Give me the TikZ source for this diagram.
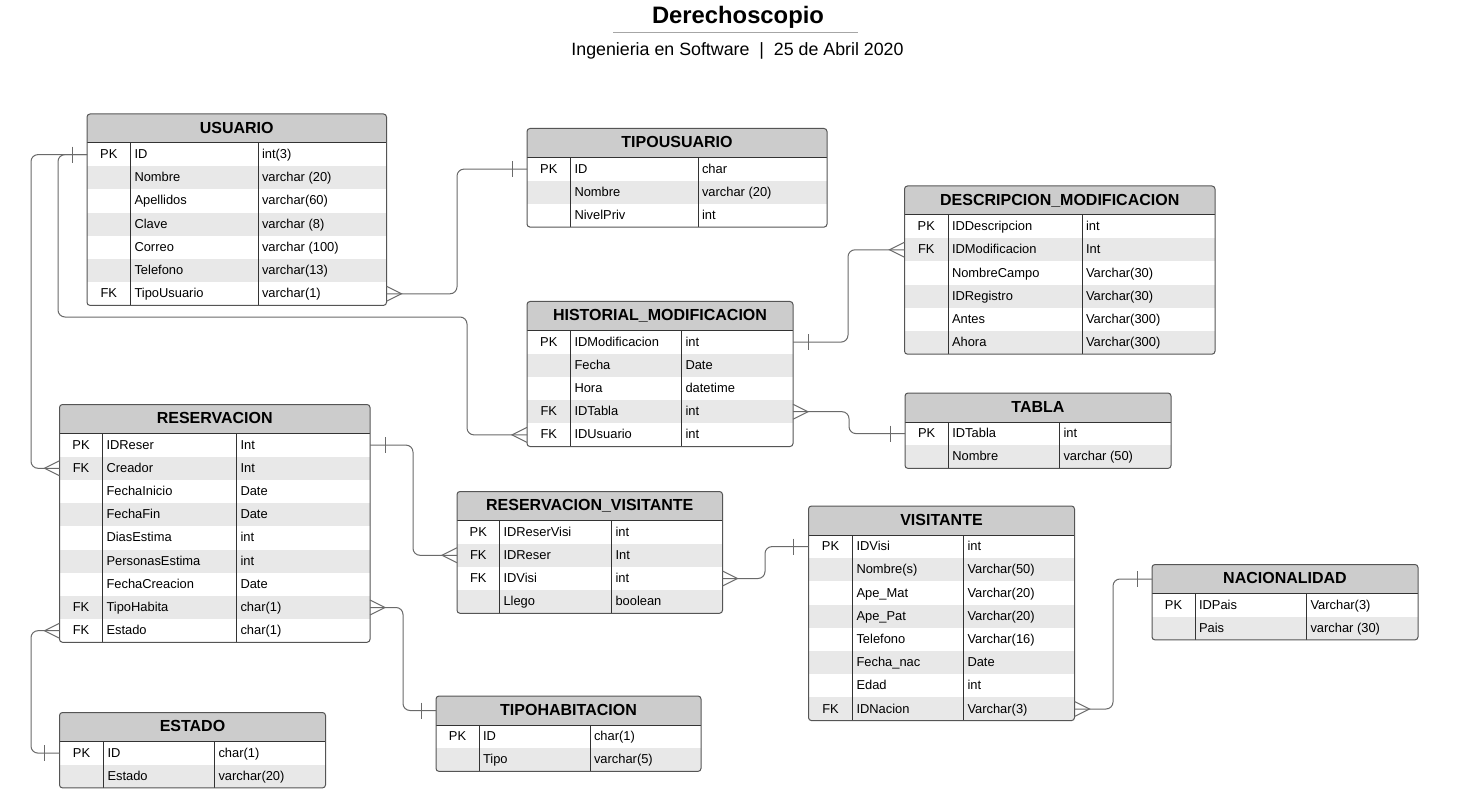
\documentclass[tikz,border=0pt]{standalone}
\usepackage{fontspec}
\setmainfont{Liberation Sans}
\usetikzlibrary{fit,calc}
\definecolor{hdr}{HTML}{CCCCCC}
\definecolor{rowsh}{HTML}{E8E8E8}
\definecolor{bord}{HTML}{555555}
\definecolor{gridl}{HTML}{333333}
\definecolor{lnk}{HTML}{6A6A6A}
\tikzset{
  cell/.style={inner sep=0pt, outer sep=0pt},
  keyt/.style={inner sep=0pt, outer sep=0pt, text height=9.2pt, text depth=0pt, font=\fontsize{12.9}{14}\selectfont},
  namet/.style={keyt, anchor=west},
  titlet/.style={inner sep=0pt, text height=11.4pt, text depth=0pt, font=\bfseries\fontsize{16}{18}\selectfont},
  conn/.style={draw=lnk, line width=1pt, rounded corners=7pt},
  ends/.style={draw=lnk, line width=1pt},
  sep/.style={draw=gridl, line width=1pt},
}
% #1 name #2 left #3 top #4 c1 #5 c2 #6 right #7 nrows #8 title #9 rows
\newcommand{\ertable}[9]{%
  \pgfmathsetmacro{\hb}{#3+29}%
  \pgfmathsetmacro{\tb}{#3+29+#7*23.2}%
  \pgfmathsetmacro{\kx}{(#2+#4)/2}%
  \pgfmathsetmacro{\hy}{#3+13.3}%
  \begin{scope}
    \clip[rounded corners=3pt] (#2,#3) rectangle (#6,\tb);
    \fill[white] (#2,#3) rectangle (#6,\tb);
    \node[cell, fit={(#2,#3) (#6,\hb)}, fill=hdr] (#1-h) {};
    \foreach \kk/\nn/\ty [count=\i] in {#9} {
      \pgfmathsetmacro{\ya}{\hb+(\i-1)*23.2}
      \pgfmathsetmacro{\yb}{\ya+23.2}
      \pgfmathsetmacro{\ym}{\ya+11}
      \pgfmathtruncatemacro{\odd}{mod(\i,2)}
      \ifnum\odd=0 \def\rf{rowsh}\else\def\rf{white}\fi
      \node[cell, fit={(#2,\ya) (#6,\yb)}, fill=\rf] (#1-r\i) {};
      \node[keyt] (#1-k\i) at (\kx,\ym) {\kk};
      \node[namet] (#1-n\i) at (#4+4,\ym) {\nn};
      \node[namet] (#1-y\i) at (#5+4,\ym) {\ty};
    }
  \end{scope}
  \draw[sep] (#2,\hb) -- (#6,\hb);
  \draw[sep] (#4,\hb) -- (#4,\tb);
  \draw[sep] (#5,\hb) -- (#5,\tb);
  \node[cell, fit={(#2,#3) (#6,\tb)}, draw=bord, line width=1pt, rounded corners=3pt] (#1) {};
  \node[titlet] (#1-t) at ($(#1-h.west)!0.5!(#1-h.east)+(0,-0.8)$) {#8};
}
\newcommand{\crowR}[1]{\draw[ends] ($(#1)+(0,-7.5)$) -- ($(#1)+(15,0)$) -- ($(#1)+(0,7.5)$);}
\newcommand{\crowL}[1]{\draw[ends] ($(#1)+(0,-7.5)$) -- ($(#1)+(-15,0)$) -- ($(#1)+(0,7.5)$);}
\newcommand{\barR}[1]{\draw[ends] ($(#1)+(15,-8)$) -- ($(#1)+(15,8)$);}
\newcommand{\barL}[1]{\draw[ends] ($(#1)+(-15,-8)$) -- ($(#1)+(-15,8)$);}
\begin{document}
\begin{tikzpicture}[x=1pt,y=-1pt]
\fill[white] (0,0) rectangle (1460,805);
\useasboundingbox (0,0) rectangle (1460,805);

% title
\node[inner sep=0pt, font=\bfseries\fontsize{23.8}{26}\selectfont] (title) at (738,17) {Derechoscopio};
\draw[draw=black!35, line width=1pt] (613,33) -- (858,33);
\node[inner sep=0pt, font=\fontsize{17.8}{20}\selectfont] (subtitle) at (737.5,50.5) {Ingenieria en Software\ \ |\ \ 25 de Abril 2020};

% tables
\ertable{usu}{87}{114}{130.5}{258}{386.5}{7}{USUARIO}{PK/ID/int(3), /Nombre/varchar (20), /Apellidos/varchar(60), /Clave/varchar (8), /Correo/varchar (100), /Telefono/varchar(13), FK/TipoUsuario/varchar(1)}
\ertable{tu}{527}{128.5}{570.5}{698}{827}{3}{TIPOUSUARIO}{PK/ID/char, /Nombre/varchar (20), /NivelPriv/int}
\ertable{desc}{904.5}{186}{948}{1082}{1215}{6}{DESCRIPCION\_MODIFICACION}{PK/IDDescripcion/int, FK/IDModificacion/Int, /NombreCampo/Varchar(30), /IDRegistro/Varchar(30), /Antes/Varchar(300), /Ahora/Varchar(300)}
\ertable{hist}{527}{301.5}{570.5}{681.5}{793}{5}{HISTORIAL\_MODIFICACION}{PK/IDModificacion/int, /Fecha/Date, /Hora/datetime, FK/IDTabla/int, FK/IDUsuario/int}
\ertable{tabla}{905}{393}{948.3}{1059.5}{1171}{2}{TABLA}{PK/IDTabla/int, /Nombre/varchar (50)}
\ertable{res}{59.5}{404.5}{102.5}{236.5}{370}{9}{RESERVACION}{PK/IDReser/Int, FK/Creador/Int, /FechaInicio/Date, /FechaFin/Date, /DiasEstima/int, /PersonasEstima/int, /FechaCreacion/Date, FK/TipoHabita/char(1), FK/Estado/char(1)}
\ertable{rv}{457}{491.5}{499.5}{611.5}{722.5}{4}{RESERVACION\_VISITANTE}{PK/IDReserVisi/int, FK/IDReser/Int, FK/IDVisi/int, /Llego/boolean}
\ertable{vis}{808.5}{506}{852.5}{963.5}{1074.5}{8}{VISITANTE}{PK/IDVisi/int, /Nombre(s)/Varchar(50), /Ape\_Mat/Varchar(20), /Ape\_Pat/Varchar(20), /Telefono/Varchar(16), /Fecha\_nac/Date, /Edad/int, FK/IDNacion/Varchar(3)}
\ertable{nac}{1152}{564.5}{1195}{1306.5}{1418}{2}{NACIONALIDAD}{PK/IDPais/Varchar(3), /Pais/varchar (30)}
\ertable{est}{59.5}{712.5}{103.5}{214.5}{325.5}{2}{ESTADO}{PK/ID/char(1), /Estado/varchar(20)}
\ertable{th}{436}{696}{479}{590}{701}{2}{TIPOHABITACION}{PK/ID/char(1), /Tipo/varchar(5)}

% connectors
\coordinate (bend1) at (467,317);
\draw[conn] (usu-r7.east) -- ++(70.5,0) |- (tu-r1.west);
\crowR{usu-r7.east} \barL{tu-r1.west}
\draw[conn] (usu-r1.west) -- ++(-56,0) |- (res-r2.west);
\draw[conn] (usu-r1.west) -- ++(-29,0) |- (bend1) |- (hist-r5.west);
\barL{usu-r1.west} \crowL{res-r2.west} \crowL{hist-r5.west}
\draw[conn] (hist-r1.east) -- ++(55,0) |- (desc-r2.west);
\barR{hist-r1.east} \crowL{desc-r2.west}
\draw[conn] (hist-r4.east) -- ++(56,0) |- (tabla-r1.west);
\crowR{hist-r4.east} \barL{tabla-r1.west}
\draw[conn] (res-r1.east) -- ++(43,0) |- (rv-r2.west);
\barR{res-r1.east} \crowL{rv-r2.west}
\draw[conn] (rv-r3.east) -- ++(42.5,0) |- (vis-r1.west);
\crowR{rv-r3.east} \barL{vis-r1.west}
\draw[conn] (vis-r8.east) -- ++(38.5,0) |- (nac-h.west);
\crowR{vis-r8.east} \barL{nac-h.west}
\draw[conn] (res-r8.east) -- ++(33,0) |- (th-h.west);
\crowR{res-r8.east} \barL{th-h.west}
\draw[conn] (res-r9.west) -- ++(-28.5,0) |- (est-r1.west);
\crowL{res-r9.west} \barL{est-r1.west}
\end{tikzpicture}
\end{document}
